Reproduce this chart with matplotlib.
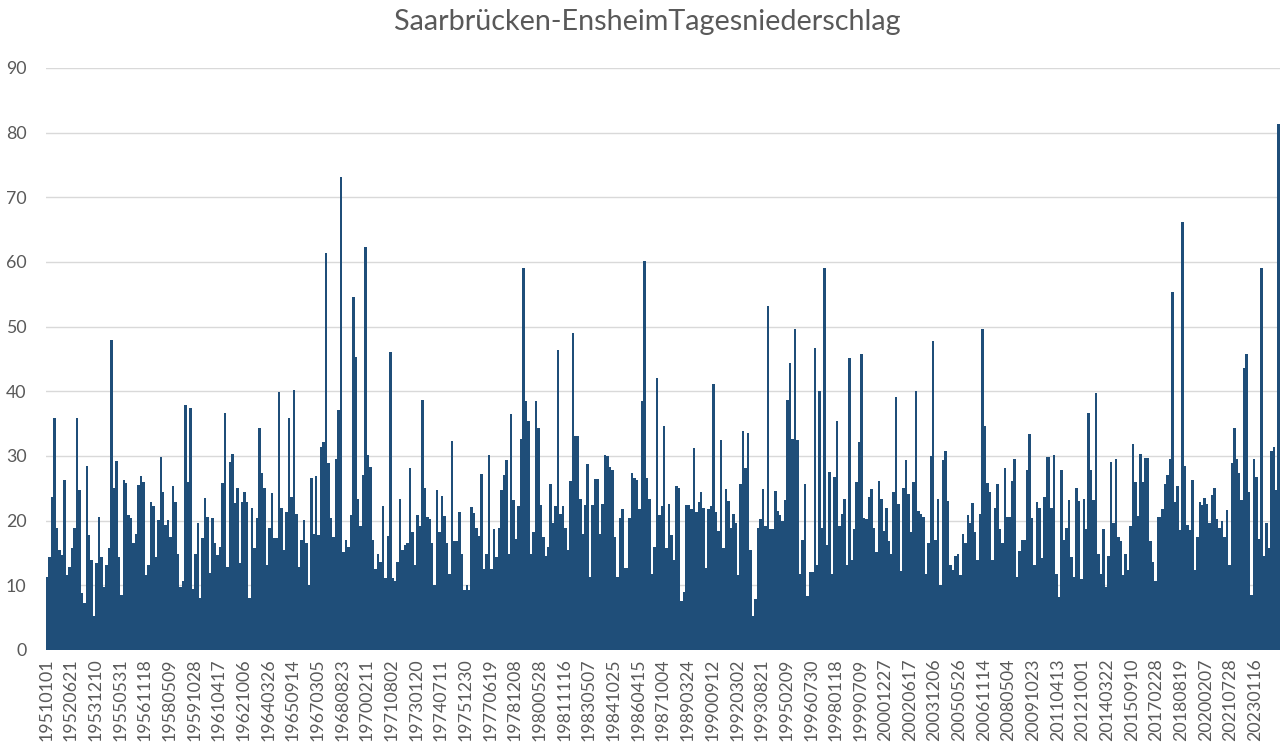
import numpy as np
import matplotlib
matplotlib.use("Agg")
import matplotlib.pyplot as plt

plt.rcParams['font.family'] = ['Lato', 'DejaVu Sans']

# envelope of daily precipitation (mm), one value per ~54-day block
vals_1951 = [11.3, 14.4, 23.7, 35.8, 18.8, 15.5, 14.7, 26.3, 11.6, 12.9,
             15.7, 18.8, 35.8, 24.7, 8.8, 7.2, 28.5, 17.8, 13.9, 5.2,
             13.4, 20.6, 14.4, 9.8, 13.1, 15.7, 48.0, 25.0, 29.2, 14.4,
             8.5, 26.3, 25.8, 20.9, 20.4, 16.5, 18.0, 25.5, 26.9, 25.9,
             11.6, 13.1, 22.9, 22.2, 14.4, 20.1, 29.9, 24.5, 19.3, 20.1,
             17.5, 25.3, 22.9, 14.9, 9.8, 10.6, 37.9, 26.0, 37.4, 9.5,
             14.9, 19.6]
vals_1960 = [8.0, 17.3, 23.5, 20.6, 11.9, 20.4, 16.5, 14.7, 16.0, 25.8,
             36.7, 12.9, 29.1, 30.3, 22.7, 25.0, 13.4, 22.9, 24.5, 22.9,
             8.0, 21.9, 15.7, 20.4, 34.3, 27.3, 25.0, 13.1, 18.8, 24.3,
             17.3, 17.3, 39.9, 21.9, 15.5, 21.4, 35.8, 23.7, 40.2, 21.1,
             12.9, 17.0, 20.1, 16.5, 10.1, 26.6, 18.0, 26.9, 17.8, 31.4,
             32.2, 61.4, 28.9, 20.4, 17.5, 29.5, 37.1, 73.2, 15.2, 17.0,
             16.0, 20.9]
vals_1969 = [54.6, 45.3, 23.3, 19.1, 27.0, 62.3, 30.1, 28.3, 17.0, 12.5,
             14.8, 13.6, 22.2, 11.2, 17.7, 46.1, 11.2, 10.6, 13.6, 23.3,
             15.4, 16.3, 16.6, 28.1, 18.3, 13.1, 20.8, 19.1, 38.7, 25.1,
             20.5, 20.2, 16.5, 10.1, 24.8, 18.3, 23.8, 20.7, 16.5, 11.7,
             32.3, 16.9, 16.8, 21.3, 14.9, 9.3, 10.0, 9.3, 22.1, 21.2,
             18.8, 17.7, 27.2, 12.5, 14.9, 30.1, 12.5, 18.7, 14.3, 18.8,
             24.8, 27.0, 29.4]
vals_1978 = [14.9, 36.5, 23.2, 17.2, 22.2, 32.6, 59.1, 38.5, 35.4, 14.9,
             18.3, 38.5, 34.4, 22.4, 17.5, 14.5, 15.9, 25.7, 19.6, 22.2,
             46.4, 21.1, 22.3, 18.8, 15.4, 26.1, 49.0, 33.1, 33.1, 23.4,
             17.9, 22.4, 28.7, 11.3, 22.4, 26.4, 26.4, 18.0, 22.5, 30.2,
             30.0, 28.3, 27.9, 17.4, 11.3, 20.4, 21.8, 12.6, 12.6, 20.4,
             27.4, 26.6, 26.3, 21.8, 38.5, 60.1, 26.6, 23.4, 11.8, 15.9,
             42.0, 20.9, 22.3]
vals_1987 = [34.6, 15.7, 22.5, 17.8, 13.9, 25.4, 25.1, 7.6, 8.9, 22.4,
             22.4, 21.8, 31.2, 21.3, 22.9, 24.4, 22.0, 12.7, 21.8, 22.2,
             41.1, 21.3, 18.4, 32.5, 15.7, 24.9, 23.1, 18.9, 21.1, 19.6,
             11.6, 25.7, 33.8, 28.1, 33.5, 15.4, 5.3, 7.9, 18.9, 20.3,
             24.9, 19.1, 53.2, 18.7, 18.7, 24.6, 21.5, 20.9, 19.9, 23.2,
             38.7, 44.3, 32.6, 49.6, 32.4, 11.8, 17.0, 25.7, 8.4, 12.1,
             12.1, 46.7, 13.1, 40.1]
vals_1997 = [18.8, 59.1, 16.3, 27.5, 11.8, 26.7, 35.4, 19.2, 21.0, 23.4,
             13.1, 45.1, 13.9, 18.7, 26.0, 32.1, 45.7, 20.4, 20.3, 23.7,
             24.9, 18.9, 15.2, 26.2, 23.4, 18.4, 22.0, 16.8, 14.9, 24.4,
             39.1, 22.5, 12.2, 25.1, 29.4, 24.1, 18.3, 26.0, 40.1, 21.5,
             21.1, 20.6, 11.8, 16.5, 30.0, 47.8, 17.0, 23.3, 10.1, 29.3,
             30.8, 23.1, 13.1, 12.3, 14.5, 14.8, 11.6, 17.9, 16.5, 20.8,
             19.6, 22.7, 18.2]
vals_2006 = [13.9, 21.0, 49.6, 34.6, 25.8, 24.4, 13.9, 22.0, 25.7, 18.7,
             16.5, 28.1, 20.5, 20.6, 26.1, 29.6, 11.3, 15.3, 17.0, 17.0,
             27.9, 33.4, 20.4, 13.1, 22.9, 22.0, 14.2, 23.7, 29.9, 29.9,
             22.0, 30.1, 11.8, 8.2, 27.8, 17.0, 18.9, 23.2, 14.4, 11.3,
             25.1, 23.1, 11.0, 23.4, 18.7, 36.7, 27.8, 23.2, 39.8, 14.9,
             11.8, 18.7, 9.7, 14.5, 29.1, 19.6, 29.5, 17.4, 16.8, 11.6,
             14.9, 12.3]
vals_2015 = [19.1, 31.9, 25.9, 20.7, 30.3, 25.9, 29.7, 29.7, 16.9, 13.6,
             10.6, 20.5, 20.5, 21.8, 25.6, 27.0, 29.5, 55.4, 22.9, 25.3,
             18.5, 66.2, 28.4, 19.4, 18.5, 26.3, 12.3, 17.5, 22.9, 22.4,
             23.5, 22.6, 19.6, 24.0, 25.1, 20.2, 18.8, 19.9, 17.5, 21.7,
             13.1, 28.9, 34.3, 29.5, 27.4, 23.2, 43.6, 45.8, 24.5, 8.5,
             29.5, 26.8, 17.2, 59.0, 14.5, 19.6, 15.8, 30.8, 31.4, 24.8,
             81.3]

tick_labels = ['19510101', '19520621', '19531210', '19550531', '19561118',
               '19580509', '19591028', '19610417', '19621006', '19640326',
               '19650914', '19670305', '19680823', '19700211', '19710802',
               '19730120', '19740711', '19751230', '19770619', '19781208',
               '19800528', '19811116', '19830507', '19841025', '19860415',
               '19871004', '19890324', '19900912', '19920302', '19930821',
               '19950209', '19960730', '19980118', '19990709', '20001227',
               '20020617', '20031206', '20050526', '20061114', '20080504',
               '20091023', '20110413', '20121001', '20140322', '20150910',
               '20170228', '20180819', '20200207', '20210728', '20230116']

values = np.array(vals_1951 + vals_1960 + vals_1969 + vals_1978 +
                  vals_1987 + vals_1997 + vals_2006 + vals_2015)
n = len(values)
step = n // len(tick_labels)

fig = plt.figure(figsize=(12.82, 7.47), dpi=100)
ax = fig.add_axes([0.0359, 0.1299, 0.9625, 0.7791])

ax.stairs(values, np.arange(n + 1), fill=True, color='#1F4E79', lw=0)

ax.set_xlim(0, n)
ax.set_ylim(0, 90)
ax.set_yticks(np.arange(0, 91, 10))
ax.grid(axis='y', color='#D9D9D9', lw=1)
ax.set_axisbelow(True)
for s in ax.spines.values():
    s.set_visible(False)

ax.set_xticks(np.arange(len(tick_labels)) * step)
ax.set_xticklabels(tick_labels, rotation=90)
ax.tick_params(axis='x', length=0, pad=6, labelsize=12.8, labelcolor='#595959')
ax.tick_params(axis='y', length=0, pad=14, labelsize=12.8, labelcolor='#595959')

fig.text(0.505, 0.97, 'Saarbrücken-EnsheimTagesniederschlag', ha='center', va='center',
         fontsize=20.7, color='#595959')

fig.savefig('out.png', dpi=100)
